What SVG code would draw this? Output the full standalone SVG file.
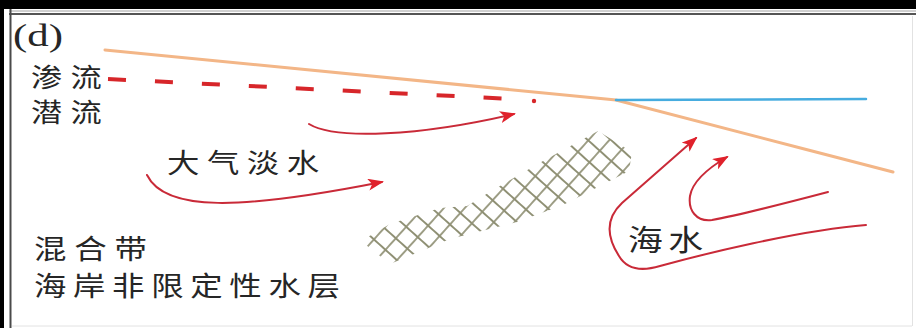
<svg xmlns="http://www.w3.org/2000/svg" width="916" height="328" viewBox="0 0 916 328">
  <style>
    .cjk { font-family: "Noto Sans CJK SC", "Noto Sans", sans-serif; font-size: 27px; fill: #262626; }
    .tag { font-family: "Liberation Serif", serif; font-size: 31px; fill: #262626; }
    .flow { fill: none; stroke: #c92a38; stroke-width: 2; stroke-linecap: round; marker-end: url(#head); }
  </style>
  <defs>
    <marker id="head" viewBox="0 0 16 12" refX="14" refY="6" markerWidth="16" markerHeight="12" markerUnits="userSpaceOnUse" orient="auto">
      <path d="M0 0 L16 6 L0 12 L4 6 Z" fill="#e0212b"/>
    </marker>
    <pattern id="lattice" width="15.5" height="15.5" patternUnits="userSpaceOnUse" patternTransform="translate(363 240) rotate(42)">
      <path d="M0 7.75H15.5M7.75 0V15.5" stroke="#8f9074" stroke-width="1.7"/>
    </pattern>
  </defs>

  <!-- page -->
  <rect x="0" y="0" width="916" height="328" fill="#ffffff"/>

  <!-- frame -->
  <g id="frame">
    <rect x="0" y="0" width="916" height="9" fill="#000"/>
    <rect x="0" y="0" width="4" height="328" fill="#000"/>
    <line x1="9" y1="11" x2="916" y2="11" stroke="#a0a0a0" stroke-width="1"/>
    <line x1="9" y1="14" x2="916" y2="14" stroke="#555" stroke-width="2"/>
    <line x1="10.5" y1="9" x2="10.5" y2="328" stroke="#4a4a4a" stroke-width="2"/>
    <line x1="912.5" y1="16" x2="912.5" y2="326" stroke="#e2e2e2" stroke-width="1"/>
    <line x1="12" y1="326" x2="912" y2="326" stroke="#e2e2e2" stroke-width="1"/>
  </g>

  <!-- ground surface and sea surface -->
  <g id="surface">
    <path d="M105 50 L616 100 C 700 122, 800 148, 893 172" fill="none" stroke="#f3b687" stroke-width="3" stroke-linecap="round"/>
    <line x1="616" y1="100" x2="866" y2="99" stroke="#46acdf" stroke-width="2.5" stroke-linecap="round"/>
  </g>

  <!-- water table -->
  <g id="water-table">
    <path d="M108 79 L503 98.5" fill="none" stroke="#d7262a" stroke-width="4" stroke-dasharray="18 29"/>
    <circle cx="534" cy="101" r="2.2" fill="#d7262a"/>
  </g>

  <!-- mixing zone -->
  <g id="mixing-zone">
    <polygon points="361,241 390,224 440,208 467,206 493,190 543,161 598,131 632,152 629,171 563,205 517,222 450,239 390,264" fill="url(#lattice)"/>
  </g>

  <!-- flow paths -->
  <g id="connectors">
    <path class="flow" d="M309 124 C 335 140, 420 136, 514 114"/>
    <path class="flow" d="M147 175 C 165 212, 240 210, 382 182"/>
    <path class="flow" d="M866 225 C 800 230, 700 255, 660 266 C 640 272, 626 268, 619 256 C 606 236, 606 218, 622 203 L 696 138"/>
    <path class="flow" d="M828 192 C 790 202, 740 215, 712 220 C 696 222, 688 210, 690 196 C 692 184, 705 170, 727 157"/>
  </g>

  <!-- labels (CJK set slightly wide) -->
  <g id="label-d"><text class="tag" x="13" y="46" textLength="50" lengthAdjust="spacingAndGlyphs">(d)</text></g>
  <g id="label-seepage" transform="scale(1.2 1)"><text class="cjk" x="25.8" y="87" style="font-size:26px" textLength="59">渗流</text></g>
  <g id="label-subsurface" transform="scale(1.2 1)"><text class="cjk" x="25.8" y="122" style="font-size:26px" textLength="59">潜流</text></g>
  <g id="label-freshwater" transform="scale(1.2 1)"><text class="cjk" x="139.2" y="173" textLength="126.7">大气淡水</text></g>
  <g id="label-mixing" transform="scale(1.2 1)"><text class="cjk" x="28.3" y="259" textLength="94.2">混合带</text></g>
  <g id="label-aquifer" transform="scale(1.2 1)"><text class="cjk" x="28.3" y="296" textLength="255">海岸非限定性水层</text></g>
  <g id="label-seawater" transform="scale(1.2 1)"><text class="cjk" x="523.3" y="251" style="font-size:29px" textLength="62.5">海水</text></g>
</svg>
